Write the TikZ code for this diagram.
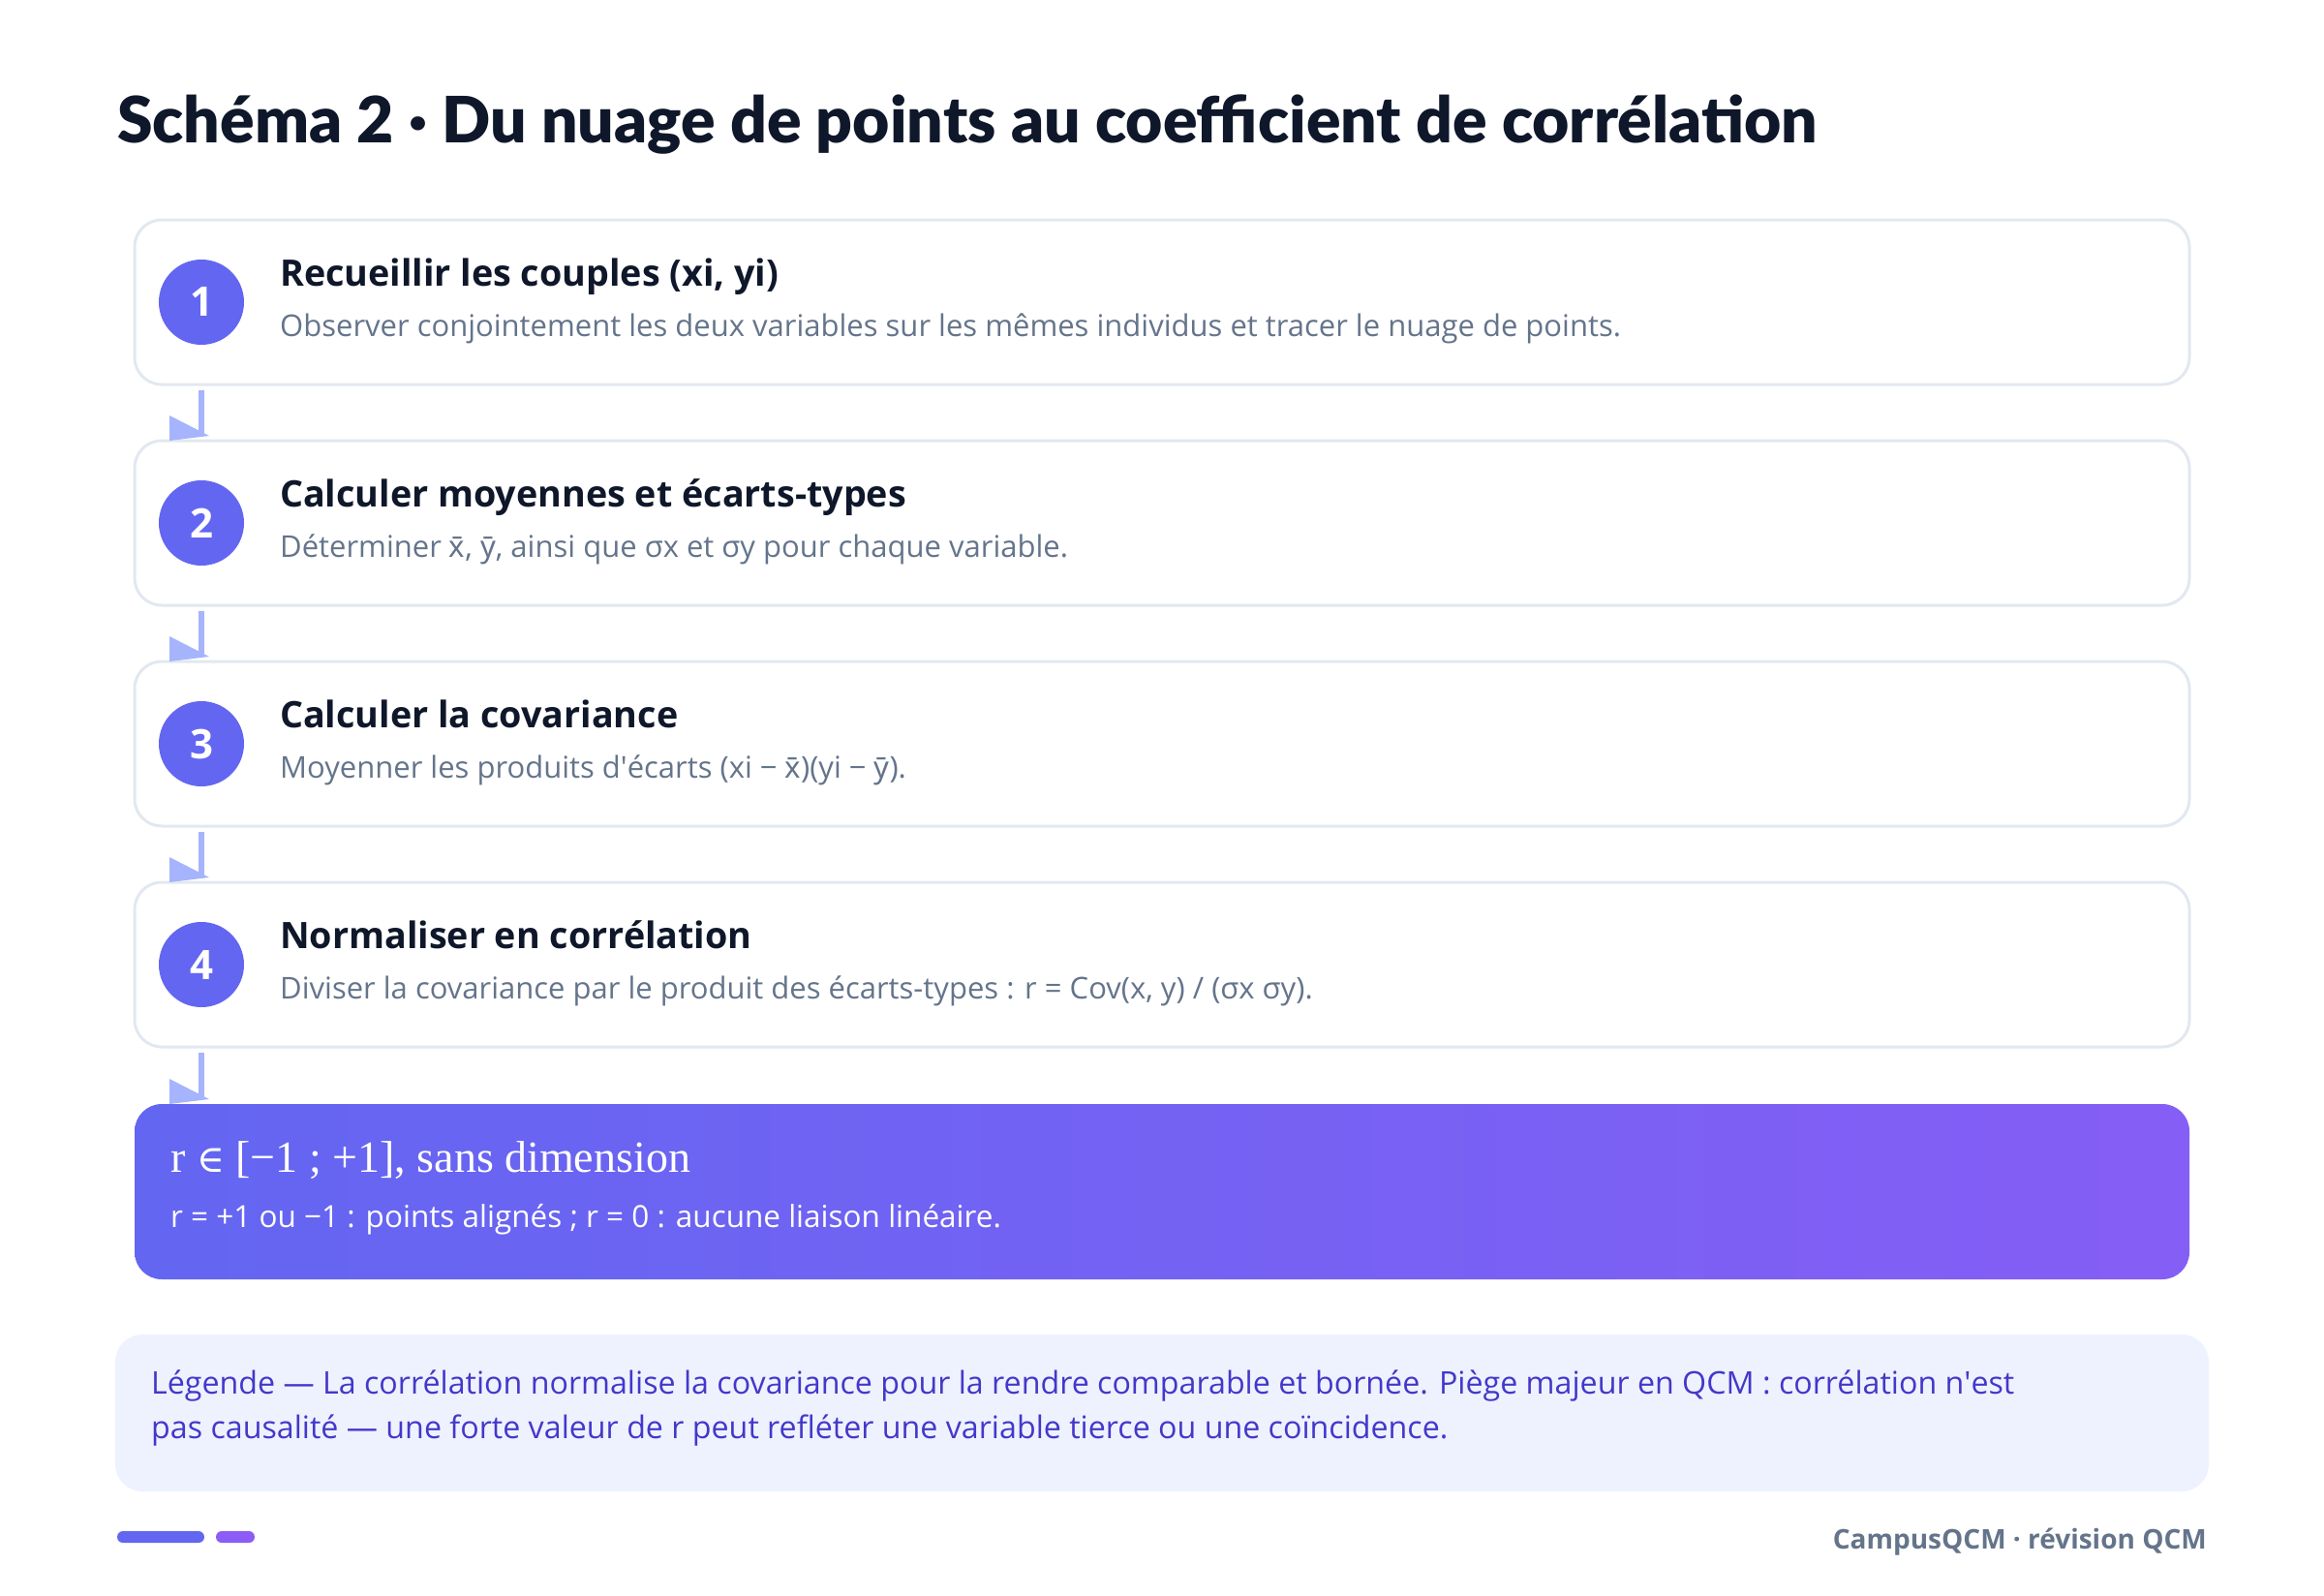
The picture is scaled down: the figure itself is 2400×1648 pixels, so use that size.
\documentclass[tikz,border=0pt]{standalone}
\usepackage{fontspec}
\setmainfont{Open Sans}
\newfontfamily\markfont{Noto Sans}
\newfontfamily\titlefont{Lato Black}
\newfontfamily\serifnote{Liberation Serif}
\newfontfamily\symbfont{DejaVu Serif}
\usetikzlibrary{positioning}

\definecolor{ink}{HTML}{0F172A}
\definecolor{muted}{HTML}{64748B}
\definecolor{frame}{HTML}{E2E8F0}
\definecolor{indigo}{HTML}{6366F1}
\definecolor{violet}{HTML}{8B5CF6}
\definecolor{linkblue}{HTML}{A5B4FC}
\definecolor{legendbg}{HTML}{EEF2FF}
\definecolor{legendink}{HTML}{4338CA}

\newcommand\xbar{{\markfont x̄}}
\newcommand\ybar{{\markfont ȳ}}

\begin{document}
\begin{tikzpicture}[
  x=1pt, y=-1pt,
  stepbox/.style={rectangle, rounded corners=28pt, draw=frame, line width=3pt, fill=white, minimum width=2122pt, minimum height=170pt, inner sep=0pt, outer sep=0pt},
  resultbox/.style={rectangle, rounded corners=28pt, left color=indigo, right color=violet!85!indigo, minimum width=2122pt, minimum height=181pt, inner sep=0pt, outer sep=0pt},
  legendbox/.style={rectangle, rounded corners=28pt, fill=legendbg, minimum width=2162pt, minimum height=162pt, inner sep=0pt, outer sep=0pt},
  num/.style={circle, fill=indigo, minimum size=88pt, inner sep=0pt, text=white, font=\fontsize{42}{42}\selectfont\bfseries},
  head/.style={anchor=base west, inner sep=0pt, text=ink, font=\fontsize{37.7}{44}\selectfont\bfseries},
  desc/.style={anchor=base west, inner sep=0pt, text=muted, font=\fontsize{31}{36}\selectfont},
  link/.style={linkblue, line width=6pt}
]
\useasboundingbox (0,0) rectangle (2400,1648);

\node[anchor=base west, inner sep=0pt, text=ink, font=\titlefont\fontsize{66}{72}\selectfont] (title) at (121,148) {Schéma 2 · Du nuage de points au coefficient de corrélation};

% steps
\node[stepbox, anchor=north west] (s1) at (139,227) {};
\node[stepbox, below=58pt of s1] (s2) {};
\node[stepbox, below=58pt of s2] (s3) {};
\node[stepbox, below=58pt of s3] (s4) {};
\node[resultbox, below=59pt of s4] (res) {};

\node[num] (n1) at ([xshift=69pt]s1.west) {1};
\node[num] (n2) at ([xshift=69pt]s2.west) {2};
\node[num] (n3) at ([xshift=69pt]s3.west) {3};
\node[num] (n4) at ([xshift=69pt]s4.west) {4};

\node[head] (h1) at ([xshift=150pt, yshift=17pt]s1.west) {Recueillir les couples (xi, yi)};
\node[desc] (d1) at ([xshift=150pt, yshift=-35pt]s1.west) {Observer conjointement les deux variables sur les mêmes individus et tracer le nuage de points.};
\node[head] (h2) at ([xshift=150pt, yshift=17pt]s2.west) {Calculer moyennes et écarts-types};
\node[desc] (d2) at ([xshift=150pt, yshift=-35pt]s2.west) {Déterminer \xbar, \ybar, ainsi que σx et σy pour chaque variable.};
\node[head] (h3) at ([xshift=150pt, yshift=17pt]s3.west) {Calculer la covariance};
\node[desc] (d3) at ([xshift=150pt, yshift=-35pt]s3.west) {Moyenner les produits d\textquotesingle écarts (xi − \xbar)(yi − \ybar).};
\node[head] (h4) at ([xshift=150pt, yshift=17pt]s4.west) {Normaliser en corrélation};
\node[desc] (d4) at ([xshift=150pt, yshift=-35pt]s4.west) {Diviser la covariance par le produit des écarts-types : r = Cov(x, y) / (σx σy).};

% result
\node[anchor=base west, inner sep=0pt, text=white, font=\serifnote\fontsize{46}{52}\selectfont] (rtitle) at ([xshift=37pt, yshift=20pt]res.west) {r {\symbfont\fontsize{39}{52}\selectfont ∈} [−1 ; +1], sans dimension};
\node[anchor=base west, inner sep=0pt, text=white, font=\fontsize{31.5}{36}\selectfont] (rtext) at ([xshift=37pt, yshift=-37pt]res.west) {r = +1 ou −1 : points alignés ; r = 0 : aucune liaison linéaire.};

% links
\foreach \a/\b in {s1/s2, s2/s3, s3/s4, s4/res}{
  \draw[link] ([yshift=-6pt]\a.south -| n1) -- ([yshift=6pt]\b.north -| n1);
  \fill[linkblue] ([xshift=-33pt]\b.north -| n1) -- ++(0,-26) -- ++(41,21) -- cycle;
}

% legend
\node[legendbox, anchor=north west] (leg) at (119,1378) {};
\node[anchor=base west, inner sep=0pt, align=left, text=legendink, font=\fontsize{32.2}{46}\selectfont] (legtext) at (156,1485) {Légende — La corrélation normalise la covariance pour la rendre comparable et bornée. Piège majeur en QCM : corrélation n\textquotesingle est\\pas causalité — une forte valeur de r peut refléter une variable tierce ou une coïncidence.};

% footer
\fill[indigo, rounded corners=6pt] (121,1581) rectangle (211,1593);
\fill[violet, rounded corners=6pt] (223,1581) rectangle (263,1593);
\node[anchor=base east, inner sep=0pt, text=muted, font=\fontsize{28}{34}\selectfont\bfseries] (foot) at (2279,1599) {CampusQCM · révision QCM};
\end{tikzpicture}
\end{document}
